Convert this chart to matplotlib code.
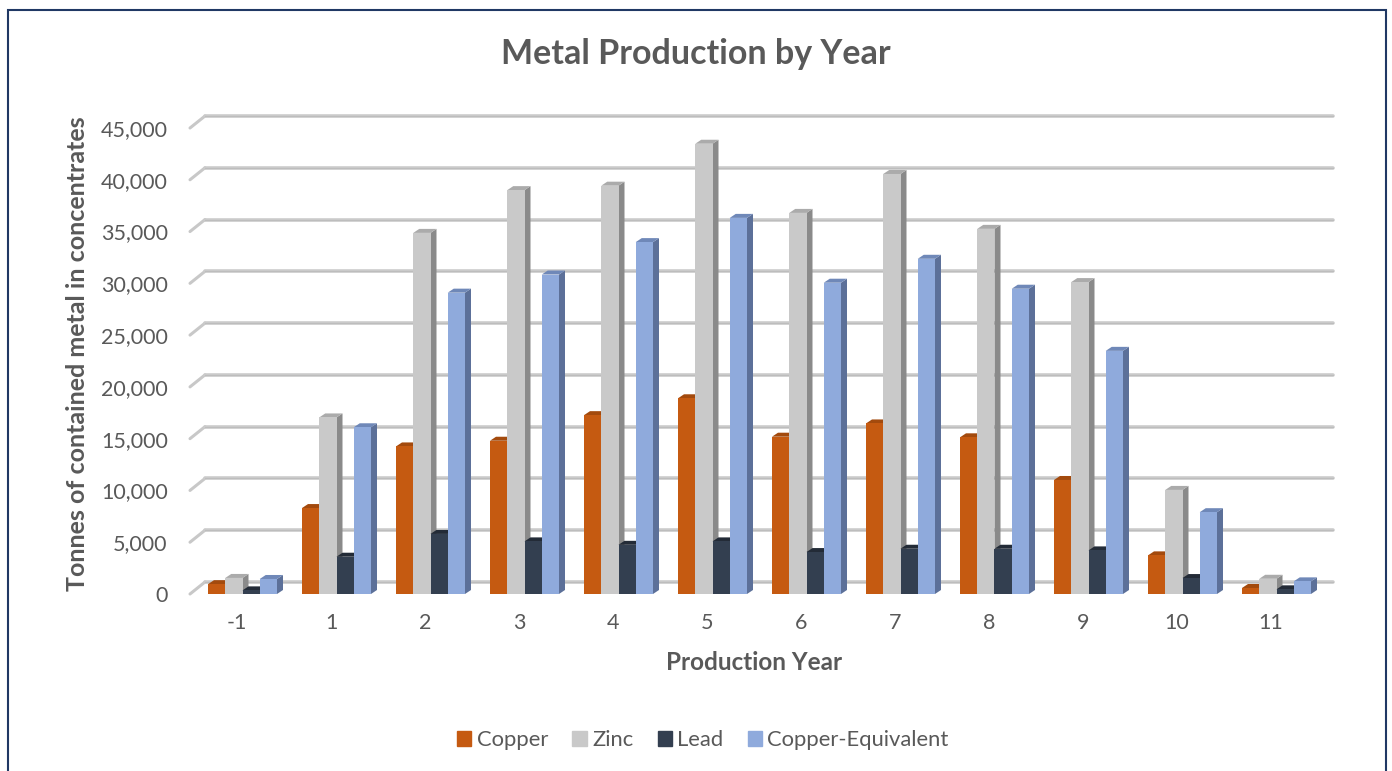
import matplotlib.pyplot as plt
from matplotlib.patches import Polygon, Rectangle, Patch

# data (tonnes)
years = ['-1', '1', '2', '3', '4', '5', '6', '7', '8', '9', '10', '11']
copper = [950, 8300, 14250, 14800, 17270, 18900, 15190, 16470, 15130, 11010, 3730, 580]
zinc = [1550, 17050, 34870, 39000, 39430, 43480, 36800, 40560, 35260, 30120, 10050, 1470]
lead = [350, 3600, 5800, 5080, 4750, 5080, 4050, 4370, 4370, 4210, 1540, 450]
cu_eq = [1450, 16100, 29100, 30850, 33980, 36320, 30060, 32370, 29480, 23480, 7900, 1220]
series_names = ['Copper', 'Zinc', 'Lead', 'Copper-Equivalent']
yticks = list(range(0, 45001, 5000))

front_cols = ['#C55A11', '#C9C9C9', '#333F50', '#8FAADC']
side_cols = ['#8C3F0B', '#8A8A8A', '#1E2530', '#5C7099']
top_cols = ['#A34A0D', '#ABABAB', '#232B37', '#6F88B8']

txt = '#595959'
plt.rcParams['font.family'] = ['Lato', 'DejaVu Sans']

W, H = 1392, 771
fig = plt.figure(figsize=(W / 100, H / 100), dpi=100)

# front plane of the plot in pixels
left_px, right_px, bot_px, top_px = 190, 1318, 594, 128
ax = fig.add_axes([left_px / W, 1 - bot_px / H,
                   (right_px - left_px) / W, (bot_px - top_px) / H])
ax.set_xlim(-0.5, len(years) - 0.5)
ax.set_ylim(0, yticks[-1])
for s in ax.spines.values():
    s.set_visible(False)

ux = (right_px - left_px) / len(years)   # px per category
uy = (bot_px - top_px) / yticks[-1]      # px per tonne

# back wall gridlines (shifted in depth) with the little diagonal stubs
gdx, gdy = 15 / ux, 12 / uy
x0, x1 = ax.get_xlim()
for v in yticks:
    ax.plot([x0, x0 + gdx], [v, v + gdy], color='#c8c8c8', lw=2.2,
            clip_on=False, zorder=1, solid_capstyle='round')
    ax.plot([x0 + gdx, x1 + gdx], [v + gdy, v + gdy], color='#cbcbcb',
            lw=2.6, clip_on=False, zorder=1, solid_capstyle='round')
    ax.plot([x0 + gdx, x1 + gdx], [v + gdy, v + gdy], color='#bdbdbd',
            lw=0.8, clip_on=False, zorder=1.1)

# 3d-ish columns
bw = 17.25 / ux
shift = 5.5 / ux
bdx, bdy = 6 / ux, 4 / uy
all_series = [copper, zinc, lead, cu_eq]
for k, vals in enumerate(all_series):
    xs = [i + shift + (k - 2) * bw for i in range(len(years))]
    z = 2 + k * 0.1
    ax.bar(xs, vals, width=bw, align='edge', color=front_cols[k],
           zorder=z + 0.05, clip_on=False, linewidth=0)
    for x, v in zip(xs, vals):
        side = [(x + bw, 0), (x + bw + bdx, bdy), (x + bw + bdx, v + bdy), (x + bw, v)]
        top = [(x, v), (x + bdx, v + bdy), (x + bw + bdx, v + bdy), (x + bw, v)]
        ax.add_patch(Polygon(side, closed=True, color=side_cols[k], lw=0,
                             zorder=z, clip_on=False))
        ax.add_patch(Polygon(top, closed=True, color=top_cols[k], lw=0,
                             zorder=z, clip_on=False))

ax.set_xticks(range(len(years)))
ax.set_xticklabels(years)
ax.set_yticks(yticks)
ax.set_yticklabels([f'{v:,}' for v in yticks])
ax.tick_params(axis='x', length=0, pad=14, labelsize=15.5, labelcolor=txt)
ax.tick_params(axis='y', length=0, pad=16, labelsize=15.5, labelcolor=txt)

fig.text(0.5, 1 - 54 / H, 'Metal Production by Year', ha='center', va='center',
         fontsize=24.5, fontweight='bold', color=txt)
fig.text(78 / W, 1 - 354 / H, 'Tonnes of contained metal in concentrates',
         rotation=90, ha='center', va='center', fontsize=18,
         fontweight='bold', color=txt)
fig.text(754 / W, 1 - 663 / H, 'Production Year', ha='center', va='center',
         fontsize=17.5, fontweight='bold', color=txt)

handles = [Patch(color=c, label=n) for c, n in zip(front_cols, series_names)]
leg = fig.legend(handles=handles, loc='center', bbox_to_anchor=(703 / W, 1 - 740 / H),
                 ncol=4, frameon=False, fontsize=15.8, handlelength=0.65,
                 handleheight=0.65, handletextpad=0.25, columnspacing=1.1)
for t in leg.get_texts():
    t.set_color(txt)

# chart border
fig.patches.append(Rectangle((8 / W, -0.05), (1386 - 8) / W, 1.05 - 10 / H,
                             transform=fig.transFigure, fill=False,
                             edgecolor='#203864', lw=1.5))

fig.savefig('out.png', dpi=100)
